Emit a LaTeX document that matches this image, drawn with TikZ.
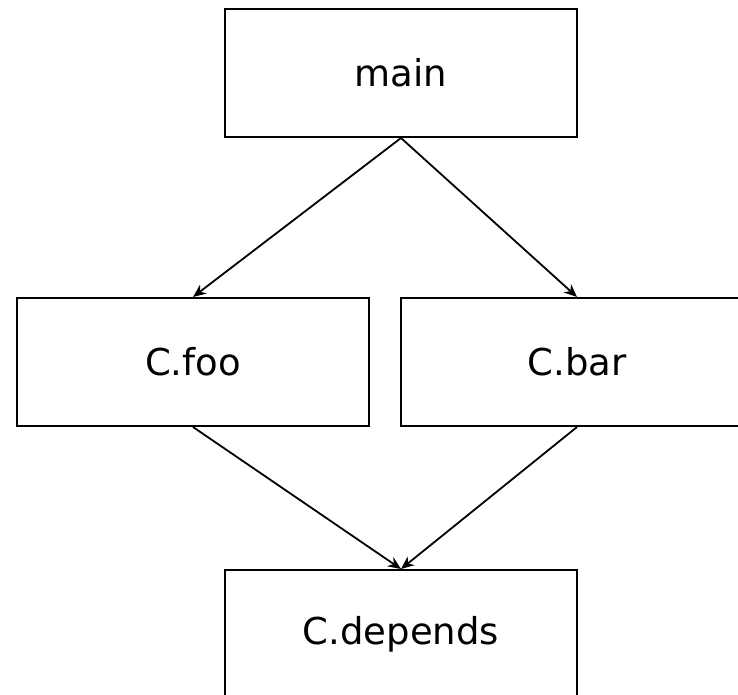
\documentclass[tikz,border=0pt]{standalone}
\usepackage{fontspec}
\setmainfont{DejaVu Sans}
\usetikzlibrary{arrows.meta}
\tikzset{
  callbox/.style={draw,line width=1pt,minimum width=176pt,minimum height=64pt,inner sep=0pt,font=\fontsize{18.5}{22}\selectfont},
  callarrow/.style={line width=0.9pt,-{Stealth[length=6.5pt,width=5.5pt]}}
}
\begin{document}
\begin{tikzpicture}[x=0.5pt,y=-0.5pt]
\clip (0,0) rectangle (738,695);
\node[callbox] (main) at (401,73) {main};
\node[callbox] (foo) at (193,362) {C.foo};
\node[callbox] (bar) at (577,362) {C.bar};
\node[callbox] (dep) at (401,634) {C.depends};
%calls
\foreach\a/\b in {main/foo,main/bar,foo/dep,bar/dep} {
  \draw[callarrow] (\a.south) -- (\b.north);
}
\end{tikzpicture}
\end{document}
